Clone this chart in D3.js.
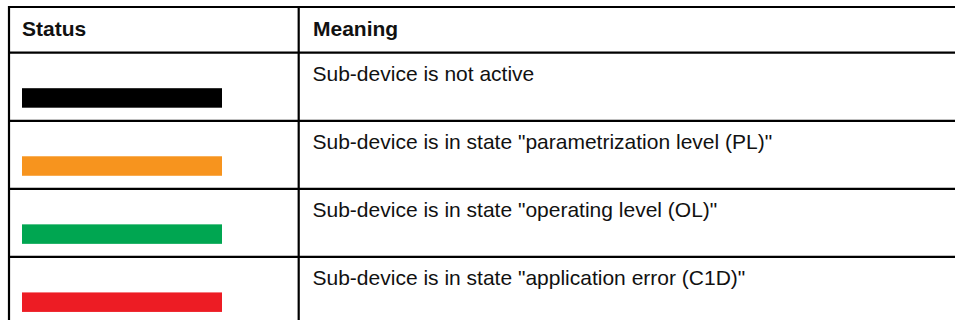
<!DOCTYPE html>
<html>
<head>
<meta charset="utf-8">
<script src="https://cdn.jsdelivr.net/npm/d3@7"></script>
<style>
  html, body { margin: 0; padding: 0; background: #fff; }
  svg { display: block; }
  text { font-family: "Liberation Sans", Arial, sans-serif; font-size: 21px; fill: #111; }
</style>
</head>
<body>
<svg id="chart" width="955" height="320"></svg>
<script>
const headers = ["Status", "Meaning"];
const statusNames = ["inactive", "PL", "OL", "C1D"];
const statusColors = ["#000000", "#F7941E", "#00A651", "#ED1C24"];
const meanings = [
  "Sub-device is not active",
  "Sub-device is in state \"parametrization level (PL)\"",
  "Sub-device is in state \"operating level (OL)\"",
  "Sub-device is in state \"application error (C1D)\""
];

const svg = d3.select("#chart");
const tblLeft = 9, tblDivider = 298.7, tblRight = 960;
const tblTop = 7, headerBottom = 52.7;

const rowY = d3.scaleLinear().domain([0, statusNames.length]).range([headerBottom, 325]);
const barX = d3.scaleLinear().domain([0, 1]).range([22, 222]);

const rows = statusNames.map((s, i) => ({ name: s, color: statusColors[i], meaning: meanings[i], i }));

// header text
svg.selectAll("text.header").data(headers).join("text")
  .attr("class", "header")
  .attr("x", (d, i) => i === 0 ? 22 : 313)
  .attr("y", 36)
  .style("font-weight", "bold")
  .text(d => d);

// bars
svg.selectAll("rect.bar").data(rows).join("rect")
  .attr("class", "bar")
  .attr("x", barX(0))
  .attr("y", d => rowY(d.i) + 35.5)
  .attr("width", barX(1) - barX(0))
  .attr("height", 19.5)
  .attr("fill", d => d.color);

// meanings
svg.selectAll("text.meaning").data(rows).join("text")
  .attr("class", "meaning")
  .attr("x", 312.5)
  .attr("y", d => rowY(d.i) + 28.5)
  .text(d => d.meaning);

// grid lines
const hLines = [tblTop, headerBottom].concat(rows.map(d => rowY(d.i + 1)));
const g = svg.append("g").attr("stroke", "#000").attr("stroke-width", 2.2);
g.selectAll("line.h").data(hLines).join("line")
  .attr("class", "h")
  .attr("x1", tblLeft - 1).attr("x2", tblRight)
  .attr("y1", d => d).attr("y2", d => d);
g.selectAll("line.v").data([tblLeft, tblDivider]).join("line")
  .attr("class", "v")
  .attr("x1", d => d).attr("x2", d => d)
  .attr("y1", tblTop - 1).attr("y2", 330);
</script>
</body>
</html>
